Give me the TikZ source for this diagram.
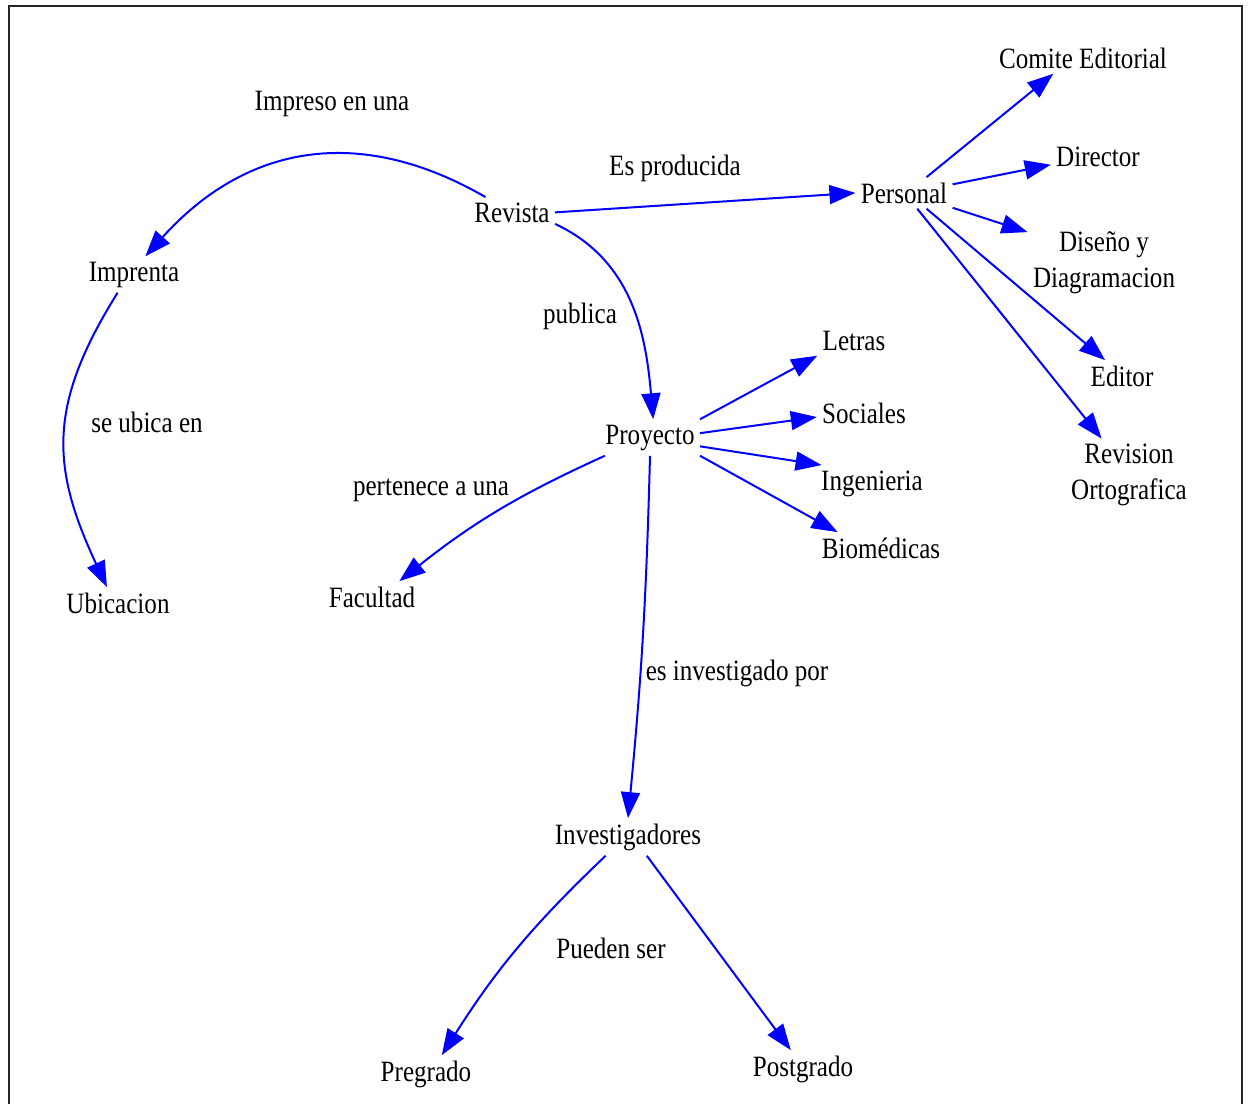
\documentclass[tikz,border=0pt]{standalone}
\usepackage{fontspec}
\setmainfont{Liberation Serif}[FakeStretch=0.85]
\usetikzlibrary{arrows.meta}

\begin{document}
\begin{tikzpicture}[x=0.5pt,y=-0.5pt,
		concepto/.style={anchor=base,inner sep=2.5pt,font=\fontsize{14.75pt}{18pt}\selectfont},
		enlace/.style={draw=blue,line width=1pt,-{Triangle[length=13pt,width=9.5pt]}}]
	\useasboundingbox (0,0) rectangle (1251,1103);
	% Marco
	\draw[line width=1pt,black!85] (9,1120) -- (9,6) -- (1242,6) -- (1242,1120);
	
	% Conceptos
	\node[concepto] (Rev) at (512,222) {Revista};
	\node[concepto] (Per) at (904,203) {Personal};
	\node[concepto] (Com) at (1083,68) {Comite Editorial};
	\node[concepto] (Dir) at (1098,166) {Director};
	\node[concepto,anchor=center,align=center] (Dis) at (1104,263) {Diseño y\\Diagramacion};
	\node[concepto] (Edi) at (1122,386) {Editor};
	\node[concepto,anchor=center,align=center] (Ort) at (1129,475) {Revision\\Ortografica};
	\node[concepto] (Imp) at (134,281) {Imprenta};
	\node[concepto] (Ubi) at (118,613) {Ubicacion};
	\node[concepto] (Pro) at (650,444) {Proyecto};
	\node[concepto] (Let) at (854,350) {Letras};
	\node[concepto] (Soc) at (864,423) {Sociales};
	\node[concepto] (Ing) at (872,490) {Ingenieria};
	\node[concepto] (Bio) at (881,558) {Biomédicas};
	\node[concepto] (Fac) at (372,607) {Facultad};
	\node[concepto] (Inv) at (628,844) {Investigadores};
	\node[concepto] (Pre) at (426,1081) {Pregrado};
	\node[concepto] (Pos) at (803,1076) {Postgrado};
	
	% Etiquetas
	\node[concepto] (eImp) at (332,110) {Impreso en una};
	\node[concepto] (ePer) at (675,175) {Es producida};
	\node[concepto] (ePro) at (580,323) {publica};
	\node[concepto] (eUbi) at (147,432) {se ubica en};
	\node[concepto] (eFac) at (431,495) {pertenece a una};
	\node[concepto] (eInv) at (737,680) {es investigado por};
	\node[concepto] (ePos) at (611,958) {Pueden ser};
	
	% Enlaces
	\draw[enlace] (Rev.150) to[out=150,in=48,looseness=1.1] (Imp.58);
	\draw[enlace] (Imp.228) to[out=238,in=115,looseness=1.15] (Ubi.125);
	\draw[enlace] (Rev.east) -- (Per.west);
	\draw[enlace] (Rev.-15) to[out=-25,in=95] (Pro.80);
	\draw[enlace] (Per.35) -- (Com.208);
	\draw[enlace] (Per.10) -- (Dir.190);
	\draw[enlace] (Per.-17) -- (Dis.158);
	\draw[enlace] (Per.-35) -- (Edi.137);
	\draw[enlace] (Per.-50) -- (Ort.127);
	\draw[enlace] (Pro.north east) -- (Let.south west);
	\draw[enlace] (Pro.5) -- (Soc.185);
	\draw[enlace] (Pro.-10) -- (Ing.160);
	\draw[enlace] (Pro.-20) -- (Bio.160);
	\draw[enlace] (Pro.202) to[bend right=7] (Fac.30);
	\draw[enlace] (Pro.south) to[bend left=2] (Inv.north);
	\draw[enlace] (Inv.-140) to[bend right=7] (Pre.50);
	\draw[enlace] (Inv.-45) -- (Pos.123);
	
\end{tikzpicture}
\end{document}
